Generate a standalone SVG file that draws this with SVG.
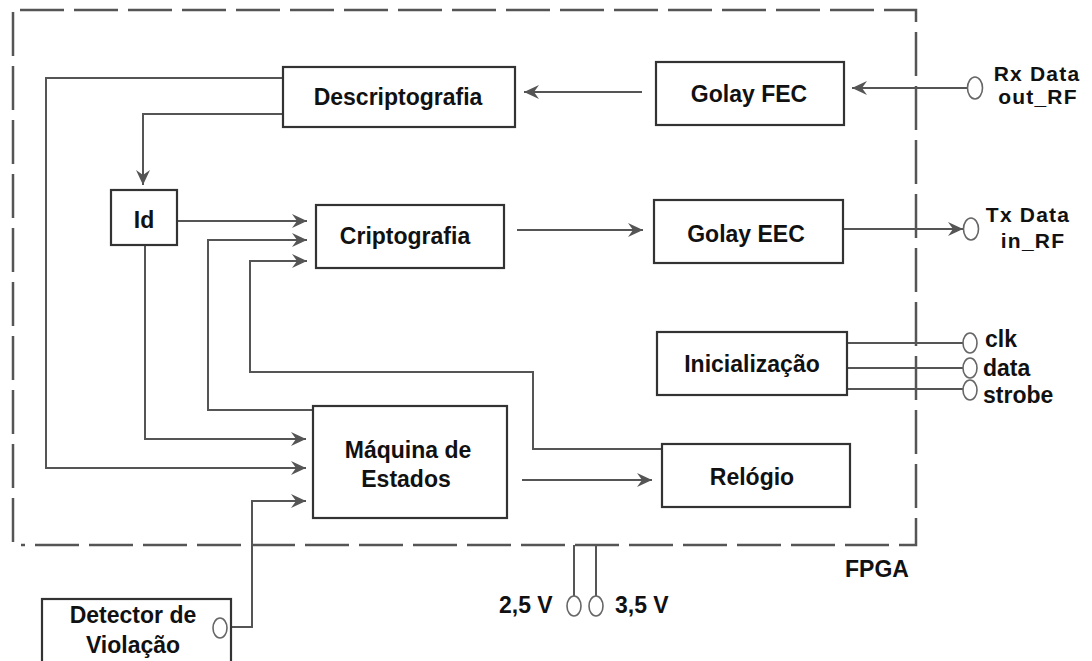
<svg xmlns="http://www.w3.org/2000/svg" width="1092" height="661" viewBox="0 0 1092 661">
<style>
.box{fill:#fff;stroke:#333;stroke-width:2.2}
.t{font-family:"Liberation Sans",Arial,sans-serif;font-weight:bold;font-size:23px;fill:#111}
.s{font-size:21px;letter-spacing:1.2px}
.c{text-anchor:middle}
.w{fill:none;stroke:#555;stroke-width:2}
.a{marker-end:url(#ah)}
.pin{fill:#fff;stroke:#666;stroke-width:1.6}
.dash{fill:none;stroke:#555;stroke-width:2.5;stroke-dasharray:44 10}
</style>
<defs>
<marker id="ah" markerUnits="userSpaceOnUse" markerWidth="20" markerHeight="16" viewBox="-16 -8 17 16" refX="0" refY="0" orient="auto">
<path d="M0,0 L-15,-7 L-10,0 L-15,7 Z" fill="#555"/>
</marker>
</defs>
<rect width="1092" height="661" fill="#fff"/>
<g id="fpga-border">
<path class="dash" d="M20,10 H916 V545 H21"/>
<path class="dash" d="M13,12 V543"/>
<text class="t" x="845" y="577">FPGA</text>
</g>
<g id="connectors">
<path class="w a" d="M642,92 H524"/>
<path class="w a" d="M967,88 H852"/>
<path class="w a" d="M283,114 H143 V185"/>
<path class="w a" d="M283,78 H46 V468 H306"/>
<path class="w a" d="M177,221 H307"/>
<path class="w a" d="M313,410 H208 V240 H307"/>
<path class="w a" d="M662,449 H533 V372 H250 V261 H307"/>
<path class="w a" d="M145,245 V439 H306"/>
<path class="w a" d="M227,627 H252 V501 H306"/>
<path class="w a" d="M517,230 H643"/>
<path class="w a" d="M843,229 H963"/>
<path class="w a" d="M522,480 H652"/>
<path class="w" d="M847,343 H963"/>
<path class="w" d="M847,368 H963"/>
<path class="w" d="M847,389 H963"/>
<path class="w" d="M574,545 V596"/>
<path class="w" d="M596,545 V596"/>
</g>
<g id="descriptografia">
<rect class="box" x="283" y="67" width="232" height="60"/>
<text class="t c" x="398" y="105">Descriptografia</text>
</g>
<g id="golay-fec">
<rect class="box" x="656" y="62" width="188" height="63"/>
<text class="t c" x="749" y="102">Golay FEC</text>
</g>
<g id="id">
<rect class="box" x="111" y="190" width="66" height="55"/>
<text class="t c" x="144" y="228">Id</text>
</g>
<g id="criptografia">
<rect class="box" x="316" y="205" width="188" height="63"/>
<text class="t c" x="405" y="244">Criptografia</text>
</g>
<g id="golay-eec">
<rect class="box" x="654" y="200" width="189" height="63"/>
<text class="t c" x="746" y="242">Golay EEC</text>
</g>
<g id="inicializacao">
<rect class="box" x="657" y="332" width="190" height="63"/>
<text class="t c" x="752" y="372">Inicialização</text>
</g>
<g id="maquina">
<rect class="box" x="313" y="406" width="194" height="112"/>
<text class="t c" x="408" y="458">Máquina de</text>
<text class="t c" x="406" y="487">Estados</text>
</g>
<g id="relogio">
<rect class="box" x="662" y="444" width="188" height="63"/>
<text class="t c" x="752" y="485">Relógio</text>
</g>
<g id="detector">
<rect class="box" x="42" y="599" width="189" height="72"/>
<text class="t c" x="133" y="623">Detector de</text>
<text class="t c" x="133" y="653">Violação</text>
<ellipse class="pin" cx="220" cy="628" rx="7" ry="10"/>
</g>
<g id="rx">
<ellipse class="pin" cx="975" cy="88" rx="7.5" ry="11"/>
<text class="t s c" x="1037" y="81">Rx Data</text>
<text class="t s c" x="1038" y="104">out_RF</text>
</g>
<g id="tx">
<ellipse class="pin" cx="971" cy="229" rx="7.5" ry="11"/>
<text class="t s c" x="1028" y="222">Tx Data</text>
<text class="t s c" x="1033" y="248">in_RF</text>
</g>
<g id="clk">
<ellipse class="pin" cx="970" cy="343" rx="7" ry="10"/>
<text class="t" x="985" y="347">clk</text>
</g>
<g id="data">
<ellipse class="pin" cx="970" cy="368" rx="7" ry="10"/>
<text class="t" x="983" y="376">data</text>
</g>
<g id="strobe">
<ellipse class="pin" cx="970" cy="390" rx="7" ry="10"/>
<text class="t" x="983" y="403">strobe</text>
</g>
<g id="v25">
<ellipse class="pin" cx="574" cy="606" rx="7" ry="10"/>
<text class="t" x="499" y="613">2,5 V</text>
</g>
<g id="v35">
<ellipse class="pin" cx="596" cy="606" rx="7" ry="10"/>
<text class="t" x="615" y="613">3,5 V</text>
</g>
</svg>
